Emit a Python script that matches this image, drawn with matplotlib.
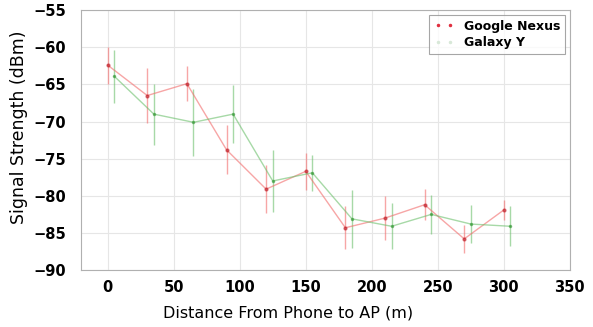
import matplotlib.pyplot as plt
from matplotlib.lines import Line2D

# Google Nexus
nexus_x = [0, 30, 60, 90, 120, 150, 180, 210, 240, 270, 300]
nexus_y = [-62.4, -66.5, -64.9, -73.8, -79.1, -76.7, -84.3, -83.0, -81.2, -85.8, -81.9]
nexus_err = [2.5, 3.7, 2.4, 3.3, 3.2, 2.5, 2.9, 3.0, 2.1, 1.9, 1.4]

# Galaxy Y
galaxy_x = [5, 35, 65, 95, 125, 155, 185, 215, 245, 275, 305]
galaxy_y = [-63.9, -69.0, -70.1, -69.0, -78.0, -76.9, -83.1, -84.1, -82.5, -83.8, -84.1]
galaxy_err = [3.6, 4.1, 4.5, 3.9, 4.2, 2.4, 3.9, 3.1, 2.6, 2.6, 2.7]

xticks = [0, 50, 100, 150, 200, 250, 300, 350]
yticks = [-90, -85, -80, -75, -70, -65, -60, -55]

fig = plt.figure(figsize=(5.93, 3.27), dpi=100)
ax = fig.add_axes([0.137, 0.174, 0.824, 0.795])

ax.errorbar(nexus_x, nexus_y, yerr=nexus_err, color='#f26b6b', alpha=0.6,
            lw=1.0, elinewidth=1.0, marker='.', ms=4, mfc='#c0202a', mec='#c0202a')
ax.errorbar(galaxy_x, galaxy_y, yerr=galaxy_err, color='#6cc06c', alpha=0.6,
            lw=1.0, elinewidth=1.0, marker='.', ms=3, mfc='#3a9a3a', mec='#3a9a3a')

ax.set_xlim(-20, 350)
ax.set_ylim(-90, -55)
ax.set_xticks(xticks)
ax.set_yticks(yticks)
ax.set_xticklabels([str(t) for t in xticks], fontweight='bold', fontsize=10.5)
ax.set_yticklabels(['\u2212' + str(-t) for t in yticks], fontweight='bold', fontsize=10.5)
ax.tick_params(length=0)
ax.tick_params(axis='x', pad=7)
ax.tick_params(axis='y', pad=11)
ax.grid(True, color='#e6e6e6', lw=0.8)
ax.set_axisbelow(True)
for s in ax.spines.values():
    s.set_color('#b0b0b0')

ax.set_xlabel('Distance From Phone to AP (m)', fontsize=11.5)
ax.set_ylabel('Signal Strength (dBm)', fontsize=12.5)
ax.xaxis.set_label_coords(0.423, -0.135)
ax.yaxis.set_label_coords(-0.108, 0.55)

handles = [
    Line2D([0], [0], ls='none', marker='.', ms=3, color='#e03040'),
    Line2D([0], [0], ls='none', marker='.', ms=3, color='#d8e8d8'),
]
leg = ax.legend(handles, ['Google Nexus', 'Galaxy Y'], loc='upper right', numpoints=2,
                prop={'weight': 'bold', 'size': 9}, fancybox=False,
                borderaxespad=0.35, handlelength=1.6, labelspacing=0.3)
leg.get_frame().set_edgecolor('#909090')
leg.get_frame().set_linewidth(0.8)

fig.savefig('out.png', dpi=100)
